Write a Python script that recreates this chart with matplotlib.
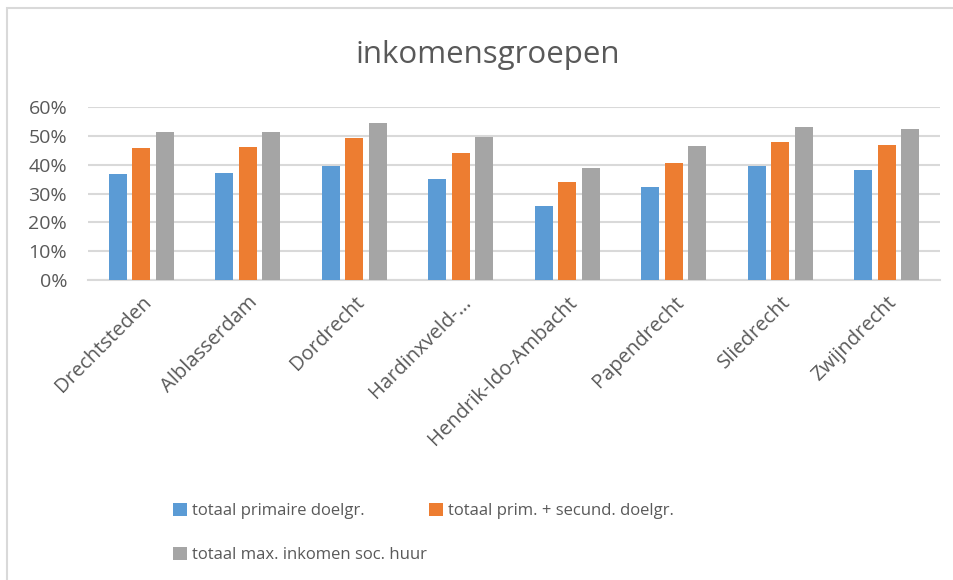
import matplotlib
matplotlib.use("Agg")
import matplotlib.pyplot as plt
import numpy as np
from matplotlib.patches import Rectangle
from matplotlib.ticker import FuncFormatter

# gegevens uit de grafiek
gemeenten = ["Drechtsteden", "Alblasserdam", "Dordrecht", "Hardinxveld-…",
             "Hendrik-Ido-Ambacht", "Papendrecht", "Sliedrecht", "Zwijndrecht"]
primair = [0.367, 0.371, 0.397, 0.350, 0.255, 0.322, 0.397, 0.380]
prim_secund = [0.459, 0.460, 0.491, 0.439, 0.339, 0.406, 0.478, 0.469]
max_soc_huur = [0.513, 0.513, 0.544, 0.495, 0.388, 0.464, 0.530, 0.525]
reeksen = ["totaal primaire doelgr.", "totaal prim. + secund. doelgr.",
           "totaal max. inkomen soc. huur"]
kleuren = ["#5B9BD5", "#ED7D31", "#A5A5A5"]

plt.rcParams['font.family'] = ['Open Sans', 'DejaVu Sans']
tekst = "#595959"

fig = plt.figure(figsize=(9.54, 5.8), dpi=100)
# kader rond de grafiek
fig.patches.append(Rectangle((7 / 954, -0.1), 1.1, 1 - 8 / 580 + 0.1,
                             transform=fig.transFigure, fill=False,
                             edgecolor="#D9D9D9", linewidth=1.5))

ax = fig.add_axes([88 / 954, 1 - 280 / 580, 852 / 954, 173 / 580])
x = np.arange(len(gemeenten))
b = 0.169
stap = 0.221
for i, (waarden, naam) in enumerate(zip([primair, prim_secund, max_soc_huur], reeksen)):
    ax.bar(x + (i - 1) * stap, waarden, b, color=kleuren[i], label=naam, zorder=3)

ax.set_xlim(-0.5, len(gemeenten) - 0.5)
ax.set_ylim(0, 0.6)
ax.set_yticks(np.arange(0, 0.61, 0.1))
ax.yaxis.set_major_formatter(FuncFormatter(lambda v, p: f"{v * 100:.0f}%"))
ax.grid(axis="y", color="#D9D9D9", linewidth=1.5, zorder=0)
for s in ["top", "right", "left"]:
    ax.spines[s].set_visible(False)
ax.spines["bottom"].set_color("#D9D9D9")
ax.spines["bottom"].set_linewidth(1.5)
ax.tick_params(length=0, colors=tekst)
ax.tick_params(axis="y", labelsize=14, pad=15)
ax.tick_params(axis="x", labelsize=14.5, pad=9)
ax.set_xticks(x)
ax.set_xticklabels(gemeenten, rotation=45, ha="right", rotation_mode="anchor")

fig.text(488 / 954, 1 - 63 / 580, "inkomensgroepen", ha="center", va="baseline",
         fontsize=22.5, color=tekst)

h, l = ax.get_legend_handles_labels()
fig.legend([h[0], h[2], h[1]], [l[0], l[2], l[1]], ncol=2,
           loc="upper left", bbox_to_anchor=(158 / 954, 1 - 488 / 580),
           frameon=False, fontsize=12, labelcolor=tekst,
           handlelength=0.85, handleheight=0.85, handletextpad=0.3,
           columnspacing=0.1, labelspacing=1.65)

fig.savefig("out.png", dpi=100)
